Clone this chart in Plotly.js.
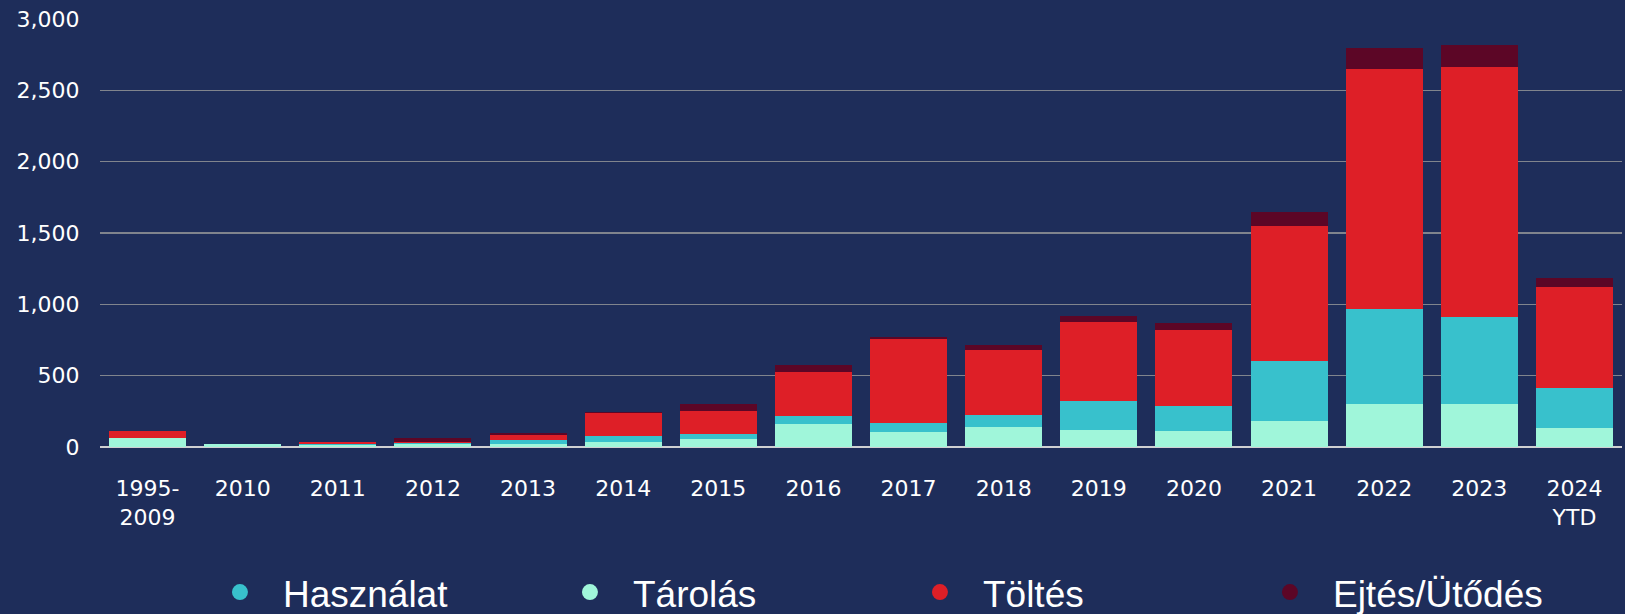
<!DOCTYPE html>
<html>
<head>
<meta charset="utf-8">
<script src="https://cdn.plot.ly/plotly-3.0.1.min.js"></script>
<style>
  html, body { margin: 0; padding: 0; background: #1e2d5a; }
  #chart { width: 1625px; height: 614px; }
</style>
</head>
<body>
<div id="chart"></div>
<script>
// Categories (tick labels)
const categories = ['1995-<br>2009', '2010', '2011', '2012', '2013', '2014', '2015', '2016',
                    '2017', '2018', '2019', '2020', '2021', '2022', '2023', '2024<br>YTD'];

// Series values (stacked, bottom to top)
const tarolas    = [60, 18, 16, 20, 24, 36, 57, 162, 104, 139, 122, 115, 185, 302, 302, 134];
const hasznalat  = [5, 4, 8, 10, 28, 40, 37, 58, 65, 88, 199, 175, 420, 665, 607, 280];
const toltes     = [50, 0, 8, 8, 32, 165, 161, 304, 588, 451, 557, 528, 945, 1680, 1752, 707];
const ejtes      = [0, 0, 4, 28, 16, 3, 49, 51, 12, 39, 42, 48, 98, 151, 154, 61];

// Series names
const nameHasznalat = 'Használat';
const nameTarolas = 'Tárolás';
const nameToltes = 'Töltés';
const nameEjtes = 'Ejtés/Ütődés';

// Colours
const cTarolas = '#a0f6da';
const cHasznalat = '#38c1cc';
const cToltes = '#de1f27';
const cEjtes = '#5c0626';

function barTrace(name, y, color) {
  return {
    type: 'bar', x: categories, y: y, name: name,
    marker: { color: color, line: { width: 0 } },
    showlegend: false, hoverinfo: 'x+y+name'
  };
}
function legendTrace(name, color) {
  return {
    type: 'scatter', mode: 'markers', x: [null], y: [null], name: name,
    marker: { color: color, size: 18, symbol: 'circle' },
    showlegend: true, hoverinfo: 'skip'
  };
}

const data = [
  barTrace(nameTarolas, tarolas, cTarolas),
  barTrace(nameHasznalat, hasznalat, cHasznalat),
  barTrace(nameToltes, toltes, cToltes),
  barTrace(nameEjtes, ejtes, cEjtes),
  legendTrace(nameHasznalat, cHasznalat),
  legendTrace(nameTarolas, cTarolas),
  legendTrace(nameToltes, cToltes),
  legendTrace(nameEjtes, cEjtes)
];

const layout = {
  width: 1625, height: 614,
  paper_bgcolor: '#1e2d5a',
  plot_bgcolor: '#1e2d5a',
  barmode: 'stack',
  bargap: 0.19,
  margin: { l: 100, r: 3, t: 19, b: 166.5, autoexpand: false },
  font: { family: 'DejaVu Sans, sans-serif', color: '#ffffff', size: 22 },
  xaxis: {
    type: 'category',
    categoryorder: 'array', categoryarray: categories,
    showgrid: false, zeroline: false, showline: false,
    ticks: 'outside', ticklen: 22, tickcolor: 'rgba(0,0,0,0)',
    tickfont: { family: 'DejaVu Sans, sans-serif', size: 22, color: '#ffffff' },
    range: [-0.5, 15.5], fixedrange: true, automargin: false
  },
  yaxis: {
    range: [0, 3000],
    tickvals: [0, 500, 1000, 1500, 2000, 2500, 3000],
    tickformat: ',d',
    showgrid: true, gridcolor: '#80848d', gridwidth: 1.3,
    zeroline: true, zerolinecolor: '#cfd0d2', zerolinewidth: 2,
    showline: false,
    ticks: 'outside', ticklen: 15, tickcolor: 'rgba(0,0,0,0)',
    tickfont: { family: 'DejaVu Sans, sans-serif', size: 22, color: '#ffffff' },
    fixedrange: true, automargin: false
  },
  legend: {
    orientation: 'h',
    x: 0.0637, xanchor: 'left',
    y: -0.340, yanchor: 'middle',
    font: { family: 'Liberation Sans, Arial, sans-serif', size: 37, color: '#ffffff' },
    bgcolor: 'rgba(0,0,0,0)',
    entrywidth: 259, entrywidthmode: 'pixels',
    itemwidth: 76,
    traceorder: 'normal'
  },
  showlegend: true
};

Plotly.newPlot('chart', data, layout, { displayModeBar: false, staticPlot: true });
</script>
</body>
</html>
